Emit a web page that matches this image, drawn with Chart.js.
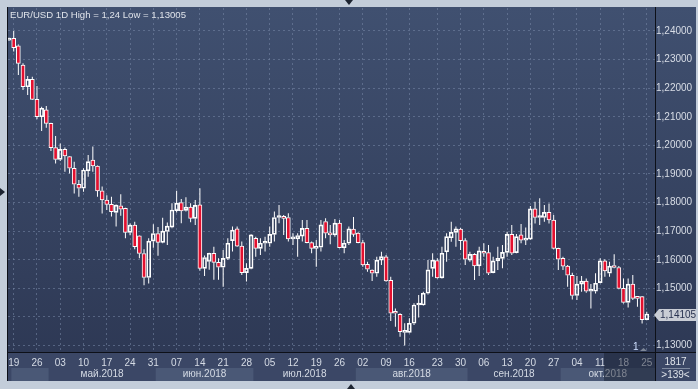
<!DOCTYPE html>
<html>
<head>
<meta charset="utf-8">
<script src="https://cdn.jsdelivr.net/npm/chart.js@4.4.1/dist/chart.umd.min.js"></script>
<style>
  html, body { margin: 0; padding: 0; }
  body { width: 698px; height: 389px; background: #c3cdda; position: relative; overflow: hidden;
         font-family: "Liberation Sans", Arial, sans-serif; }
  #panel { position: absolute; left: 7px; top: 7px; width: 689px; height: 345px;
           background: linear-gradient(#405070, #2e3955); }
  #strip { position: absolute; left: 7px; top: 352px; width: 689px; height: 29px; background: #3b4766; }
  #chart { position: absolute; left: 0; top: 0; }
  .vline { position: absolute; background: #0d1018; }
  #title { position: absolute; left: 10px; top: 9px; color: #dfe3ea; font-size: 9.6px; white-space: nowrap; }
  #tag { position: absolute; left: 654px; top: 309px; width: 42px; height: 12px; background: #c9cdd5;
         clip-path: polygon(0 50%, 5px 0, 100% 0, 100% 100%, 5px 100%); color: #283250;
         font-size: 10px; line-height: 12px; text-indent: 6px; }
  .cell { position: absolute; left: 655px; width: 41px; text-align: center; color: #dfe3ea; font-size: 10px; }
  .tri { position: absolute; width: 0; height: 0; }
</style>
</head>
<body>
<div id="panel"></div>
<div id="strip"></div>
<canvas id="chart" width="698" height="389"></canvas>
<div class="vline" style="left:7px;top:7px;width:1px;height:374px;"></div>
<div class="vline" style="left:655px;top:7px;width:1px;height:374px;"></div>
<div class="vline" style="left:7px;top:352px;width:689px;height:1px;"></div>
<div id="title">EUR/USD 1D High = 1,24 Low = 1,13005</div>
<div id="tag">1,14105</div>
<div class="cell" style="top:356px;">1817</div>
<div style="position:absolute;left:662px;top:368px;width:28px;height:1px;background:#7f8aa0;"></div>
<div class="cell" style="top:369px;">&gt;139&lt;</div>
<div class="tri" style="left:345px;top:0;border-left:4px solid transparent;border-right:4px solid transparent;border-top:5px solid #1d2431;"></div>
<div class="tri" style="left:347px;top:384px;border-left:4px solid transparent;border-right:4px solid transparent;border-bottom:5px solid #1d2431;"></div>
<div class="tri" style="left:0;top:188px;border-top:4px solid transparent;border-bottom:4px solid transparent;border-left:5px solid #1d2431;"></div>
<script>
// EUR/USD daily, 18 Apr 2018 .. 25 Oct 2018
const opens = [1.2368, 1.2374, 1.2348, 1.2281, 1.2205, 1.2231, 1.2161, 1.2100, 1.2124, 1.2077,
  1.1992, 1.1951, 1.1986, 1.1961, 1.1920, 1.1864, 1.1850, 1.1911, 1.1949, 1.1928,
  1.1841, 1.1809, 1.1794, 1.1766, 1.1789, 1.1780, 1.1696, 1.1721, 1.1684, 1.1622,
  1.1538, 1.1665, 1.1692, 1.1661, 1.1699, 1.1714, 1.1772, 1.1800, 1.1773, 1.1784,
  1.1745, 1.1792, 1.1570, 1.1594, 1.1623, 1.1591, 1.1574, 1.1605, 1.1667, 1.1708,
  1.1648, 1.1555, 1.1570, 1.1675, 1.1640, 1.1658, 1.1658, 1.1689, 1.1748, 1.1751,
  1.1748, 1.1673, 1.1673, 1.1683, 1.1710, 1.1660, 1.1640, 1.1644, 1.1734, 1.1693,
  1.1687, 1.1728, 1.1642, 1.1658, 1.1707, 1.1693, 1.1660, 1.1584, 1.1564, 1.1553,
  1.1599, 1.1610, 1.1528, 1.1419, 1.1409, 1.1346, 1.1346, 1.1378, 1.1442, 1.1442,
  1.1483, 1.1570, 1.1597, 1.1537, 1.1628, 1.1677, 1.1696, 1.1707, 1.1667, 1.1599,
  1.1619, 1.1579, 1.1628, 1.1625, 1.1555, 1.1596, 1.1605, 1.1626, 1.1689, 1.1625,
  1.1687, 1.1669, 1.1672, 1.1778, 1.1748, 1.1748, 1.1766, 1.1739, 1.1640, 1.1605,
  1.1578, 1.1546, 1.1475, 1.1515, 1.1526, 1.1490, 1.1490, 1.1520, 1.1596, 1.1553,
  1.1580, 1.1573, 1.1500, 1.1451, 1.1515, 1.1471, 1.1471, 1.1391];
const highs = [1.2376, 1.2400, 1.2353, 1.2287, 1.2243, 1.2240, 1.2208, 1.2135, 1.2138, 1.2079,
  1.2033, 1.2007, 1.1993, 1.1963, 1.1943, 1.1879, 1.1920, 1.1966, 1.1996, 1.1930,
  1.1856, 1.1826, 1.1820, 1.1793, 1.1829, 1.1782, 1.1727, 1.1733, 1.1686, 1.1637,
  1.1675, 1.1724, 1.1715, 1.1747, 1.1730, 1.1798, 1.1841, 1.1813, 1.1819, 1.1798,
  1.1809, 1.1850, 1.1615, 1.1625, 1.1646, 1.1605, 1.1634, 1.1675, 1.1716, 1.1716,
  1.1664, 1.1588, 1.1689, 1.1681, 1.1675, 1.1681, 1.1716, 1.1769, 1.1792, 1.1757,
  1.1763, 1.1693, 1.1693, 1.1739, 1.1739, 1.1664, 1.1669, 1.1739, 1.1745, 1.1722,
  1.1743, 1.1739, 1.1669, 1.1716, 1.1750, 1.1696, 1.1669, 1.1593, 1.1566, 1.1611,
  1.1628, 1.1617, 1.1541, 1.1430, 1.1413, 1.1378, 1.1396, 1.1448, 1.1477, 1.1488,
  1.1599, 1.1623, 1.1605, 1.1646, 1.1693, 1.1733, 1.1716, 1.1712, 1.1675, 1.1628,
  1.1623, 1.1646, 1.1658, 1.1652, 1.1611, 1.1646, 1.1652, 1.1698, 1.1722, 1.1690,
  1.1725, 1.1713, 1.1788, 1.1803, 1.1815, 1.1792, 1.1797, 1.1757, 1.1642, 1.1611,
  1.1582, 1.1555, 1.1543, 1.1543, 1.1535, 1.1515, 1.1553, 1.1605, 1.1602, 1.1593,
  1.1619, 1.1578, 1.1535, 1.1535, 1.1547, 1.1473, 1.1473, 1.1418];
const lows = [1.2365, 1.2328, 1.2246, 1.2194, 1.2176, 1.2159, 1.2091, 1.2050, 1.2062, 1.1980,
  1.1937, 1.1945, 1.1908, 1.1902, 1.1832, 1.1820, 1.1838, 1.1890, 1.1908, 1.1820,
  1.1762, 1.1774, 1.1751, 1.1716, 1.1754, 1.1675, 1.1686, 1.1637, 1.1605, 1.1511,
  1.1517, 1.1642, 1.1614, 1.1658, 1.1652, 1.1710, 1.1765, 1.1728, 1.1769, 1.1731,
  1.1722, 1.1562, 1.1543, 1.1565, 1.1530, 1.1530, 1.1506, 1.1599, 1.1629, 1.1646,
  1.1547, 1.1524, 1.1567, 1.1611, 1.1617, 1.1629, 1.1646, 1.1664, 1.1728, 1.1687,
  1.1664, 1.1652, 1.1611, 1.1664, 1.1658, 1.1623, 1.1576, 1.1629, 1.1675, 1.1654,
  1.1681, 1.1640, 1.1623, 1.1652, 1.1681, 1.1658, 1.1576, 1.1558, 1.1526, 1.1541,
  1.1582, 1.1523, 1.1386, 1.1366, 1.1331, 1.13005, 1.1343, 1.1372, 1.1398, 1.1440,
  1.1479, 1.1541, 1.1535, 1.1535, 1.1593, 1.1663, 1.1646, 1.1634, 1.1582, 1.1593,
  1.1529, 1.1543, 1.1611, 1.1547, 1.1553, 1.1564, 1.1570, 1.1611, 1.1617, 1.1623,
  1.1658, 1.1652, 1.1669, 1.1727, 1.1722, 1.1733, 1.1727, 1.1637, 1.1564, 1.1564,
  1.1506, 1.1461, 1.1459, 1.1488, 1.1485, 1.1430, 1.1482, 1.1518, 1.1541, 1.1541,
  1.1570, 1.1497, 1.1447, 1.1433, 1.1459, 1.1436, 1.1377, 1.1389];
const closes = [1.2373, 1.2342, 1.2287, 1.2205, 1.2231, 1.2161, 1.2100, 1.2130, 1.2077, 1.1992,
  1.1951, 1.1986, 1.1963, 1.1920, 1.1864, 1.1850, 1.1914, 1.1943, 1.1928, 1.1841,
  1.1809, 1.1794, 1.1768, 1.1791, 1.1777, 1.1696, 1.1721, 1.1646, 1.1622, 1.1538,
  1.1665, 1.1692, 1.1661, 1.1700, 1.1718, 1.1774, 1.1798, 1.1771, 1.1784, 1.1745,
  1.1790, 1.1570, 1.1608, 1.1623, 1.1591, 1.1574, 1.1605, 1.1658, 1.1704, 1.1648,
  1.1555, 1.1570, 1.1687, 1.1640, 1.1658, 1.1660, 1.1689, 1.1748, 1.1750, 1.1745,
  1.1673, 1.1678, 1.1685, 1.1710, 1.1660, 1.1640, 1.1644, 1.1722, 1.1693, 1.1687,
  1.1728, 1.1642, 1.1658, 1.1708, 1.1689, 1.1660, 1.1582, 1.1567, 1.1553, 1.1599,
  1.1611, 1.1526, 1.1413, 1.1413, 1.1349, 1.1349, 1.1378, 1.1442, 1.1444, 1.1483,
  1.1565, 1.1599, 1.1537, 1.1623, 1.1681, 1.1696, 1.1708, 1.1667, 1.1602, 1.1619,
  1.1579, 1.1631, 1.1623, 1.1553, 1.1596, 1.1605, 1.1626, 1.1689, 1.1623, 1.1681,
  1.1669, 1.1672, 1.1778, 1.1748, 1.1750, 1.1766, 1.1739, 1.1640, 1.1602, 1.1578,
  1.1546, 1.1475, 1.1515, 1.1526, 1.1490, 1.1492, 1.1518, 1.1596, 1.1561, 1.1578,
  1.1573, 1.1500, 1.1451, 1.1515, 1.1465, 1.1465, 1.1391, 1.14105];

// day ticks (bar index -> label)
const tickIdx = [1, 6, 11, 16, 21, 26, 31, 36, 41, 46, 51, 56, 61, 66, 71, 76, 81, 86,
  92, 97, 102, 107, 112, 117, 122, 127, 132, 137];
const dayLabels = ['19', '26', '03', '10', '17', '24', '31', '07', '14', '21', '28', '05', '12', '19',
  '26', '02', '09', '16', '23', '30', '06', '13', '20', '27', '04', '11', '18', '25'];
const priceTicks = [1.13, 1.14, 1.15, 1.16, 1.17, 1.18, 1.19, 1.20, 1.21, 1.22, 1.23, 1.24];

// months: first bar index of each month
const monthNames = ['', 'май.2018', 'июн.2018', 'июл.2018', 'авг.2018', 'сен.2018', 'окт.2018'];
const monthStart = [1, 9, 32, 53, 75, 99, 119];

const idx = opens.map((_, i) => i);
const bodies = idx.map(i => ({x: i, y: [opens[i], closes[i]]}));
const upperWicks = idx.map(i => ({x: i, y: [Math.max(opens[i], closes[i]), highs[i]]}));
const lowerWicks = idx.map(i => ({x: i, y: [lows[i], Math.min(opens[i], closes[i])]}));

Chart.defaults.font.family = '"Liberation Sans", Arial, sans-serif';

const extras = {
  id: 'extras',
  beforeDraw(chart) {
    const {ctx, chartArea} = chart;
    const x = chart.scales.x;
    ctx.save();
    ctx.font = '10px "Liberation Sans", Arial, sans-serif';
    ctx.textAlign = 'center';
    ctx.textBaseline = 'middle';
    for (let m = 0; m < monthNames.length; m++) {
      const a = x.getPixelForValue(monthStart[m] - 0.5);
      const b = m + 1 < monthNames.length ? x.getPixelForValue(monthStart[m + 1] - 0.5) : chartArea.right;
      if (m % 2 === 0) {
        ctx.fillStyle = '#4a5876';
        ctx.fillRect(a, 368, b - a, 13);
      }
      if (monthNames[m]) {
        ctx.fillStyle = '#d5dbe5';
        ctx.fillText(monthNames[m], (Math.max(a, chartArea.left) + b) / 2, 374.5);
      }
    }
    ctx.restore();
  },
  afterDraw(chart) {
    const {ctx} = chart;
    ctx.save();
    ctx.fillStyle = 'rgba(20,26,42,0.45)';
    ctx.fillRect(604, 353, 51, 28);
    ctx.fillStyle = '#cfe0ff';
    ctx.font = '10px "Liberation Sans", Arial, sans-serif';
    ctx.textBaseline = 'middle';
    ctx.fillText('1', 633, 347);
    ctx.fillStyle = '#7d8798';
    ctx.beginPath();
    ctx.moveTo(640, 351); ctx.lineTo(643.5, 348); ctx.lineTo(647, 351);
    ctx.closePath(); ctx.fill();
    ctx.restore();
  }
};

new Chart(document.getElementById('chart'), {
  type: 'bar',
  data: {
    datasets: [
      {
        label: 'body', data: bodies, order: 0, grouped: false,
        barThickness: 4, minBarLength: 2, borderWidth: 1, borderSkipped: false,
        borderColor: '#ffffff',
        backgroundColor: c => closes[c.dataIndex] >= opens[c.dataIndex] ? 'rgba(0,0,0,0)' : '#e3102f'
      },
      {
        label: 'upper', data: upperWicks, order: 1, grouped: false,
        barThickness: 1, borderWidth: 0, inflateAmount: 0, backgroundColor: '#ffffff'
      },
      {
        label: 'lower', data: lowerWicks, order: 1, grouped: false,
        barThickness: 1, borderWidth: 0, inflateAmount: 0, backgroundColor: '#ffffff'
      }
    ]
  },
  options: {
    responsive: false,
    animation: false,
    layout: { padding: { left: 8, top: 8, right: 0, bottom: 0 } },
    plugins: { legend: { display: false }, tooltip: { enabled: false } },
    scales: {
      x: {
        type: 'linear', min: -0.225, max: 138.77, offset: false,
        afterFit: s => { s.height = 37; },
        afterBuildTicks: s => { s.ticks = tickIdx.map(v => ({value: v})); },
        grid: { color: 'rgba(120,136,168,0.55)', drawTicks: false, offset: false },
        border: { display: false, dash: [2, 3] },
        ticks: {
          autoSkip: false, maxRotation: 0, padding: 5, color: '#d5dbe5',
          font: { size: 10 },
          callback: (v, i) => dayLabels[i]
        }
      },
      y: {
        position: 'right', min: 1.12776, max: 1.24804,
        afterFit: s => { s.width = 43; },
        afterBuildTicks: s => { s.ticks = priceTicks.map(v => ({value: v})); },
        grid: { color: 'rgba(120,136,168,0.55)', drawTicks: false },
        border: { display: false, dash: [2, 3] },
        ticks: {
          padding: 1, color: '#d8dde6', font: { size: 10 },
          callback: v => Math.abs(v - 1.14) < 1e-6 ? '' : v.toFixed(5).replace('.', ',')
        }
      }
    }
  },
  plugins: [extras]
});
</script>
</body>
</html>
